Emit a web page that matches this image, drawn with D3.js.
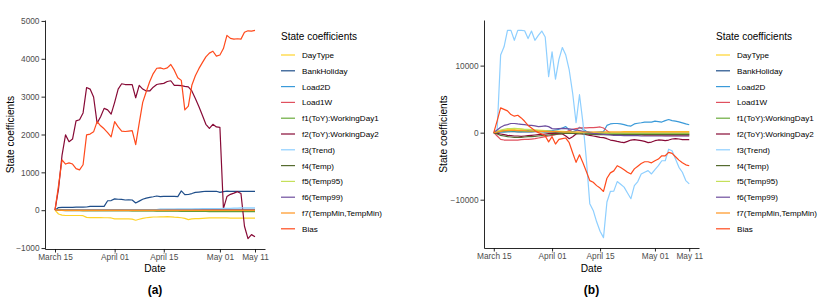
<!DOCTYPE html>
<html>
<head>
<meta charset="utf-8">
<script src="https://cdn.jsdelivr.net/npm/d3@7"></script>
<style>
body { margin: 0; background: #fff; }
svg text { font-family: 'Liberation Sans', Arial, Helvetica, sans-serif; }
.axis .tick text { fill: #4d4d4d; font-size: 8.3px; }
.axis path, .axis line { stroke: #111; stroke-width: 0.9px; }
.axis-title { font-size: 10.2px; fill: #000; }
.panel-label { font-size: 12px; font-weight: bold; fill: #000; }
.legend-title { font-size: 10px; fill: #000; }
.legend-item { font-size: 8.1px; fill: #000; }
.series { fill: none; stroke-width: 1.2px; stroke-linejoin: round; }
</style>
</head>
<body>
<svg id="chart" width="831" height="307"></svg>
<script>
// series names + colours, in legend order
var seriesNames = ['DayType', 'BankHoliday', 'Load2D', 'Load1W', 'f1(ToY):WorkingDay1', 'f2(ToY):WorkingDay2',
  'f3(Trend)', 'f4(Temp)', 'f5(Temp95)', 'f6(Temp99)', 'f7(TempMin,TempMin)', 'Bias'];
var seriesColors = ['#ffd42a', '#1f4e8a', '#3a9ad9', '#e0505e', '#6aab3c', '#870a36',
  '#8ecfff', '#556b2f', '#c5e05a', '#6e4e9e', '#ff9520', '#ff4a1c'];

var firstDay = '2020-03-15';
var lastDay = '2020-05-11';
var dateTicks = ['2020-03-15', '2020-04-01', '2020-04-15', '2020-05-01', '2020-05-11'];
var yTicksA = [-1000, 0, 1000, 2000, 3000, 4000, 5000];
var yTicksB = [-10000, 0, 10000];

// ---- panel (a) values, one per day from March 15 ----
var dayTypeA = [0, -100, -130, -140, -140, -140, -140, -140, -145, -190,
  -195, -195, -195, -195, -200, -200, -205, -230, -230, -230,
  -230, -230, -235, -265, -240, -215, -200, -190, -180, -180,
  -175, -175, -170, -175, -185, -190, -200, -215, -250, -230,
  -225, -220, -215, -210, -205, -200, -205, -200, -205, -205,
  -210, -210, -210, -210, -210, -210, -210, -210];
var bankHolidayA = [0, 70, 75, 75, 75, 75, 80, 80, 80, 85,
  100, 100, 100, 100, 100, 250, 255, 300, 290, 285,
  270, 275, 270, 190, 240, 290, 320, 340, 355, 375,
  360, 365, 365, 365, 365, 360, 510, 410, 415, 440,
  470, 480, 490, 500, 500, 500, 500, 470, 490, 505,
  500, 495, 495, 500, 500, 500, 500, 500];
var load2DA = [0, 5, 10, 10, 10, 10, 10, 10, 10, 10,
  15, 15, 15, 15, 15, 15, 15, 15, 15, 15,
  15, 15, 15, 15, 15, 15, 15, 15, 15, 15,
  20, 20, 20, 20, 20, 20, 20, 20, 20, 20,
  20, 20, 20, 20, 20, 20, 20, 20, 20, 20,
  20, 20, 20, 20, 20, 20, 20, 20];
var load1WA = [0, 5, 5, 5, 5, 5, 5, 5, 5, 5,
  5, 5, 5, 5, 5, 5, 5, 10, 10, 10,
  10, 10, 10, 10, 10, 10, 10, 10, 10, 10,
  10, 10, 10, 10, 10, 10, 10, 10, 10, 10,
  10, 10, 10, 10, 10, 10, 10, 10, 10, 10,
  10, 10, 10, 10, 10, 10, 10, 10];
var f1A = [0, 0, -5, -5, -5, -5, -5, -5, -10, -10,
  -10, -10, -10, -10, -10, -15, -15, -15, -15, -15,
  -15, -15, -20, -20, -20, -20, -20, -20, -20, -25,
  -25, -25, -25, -25, -25, -25, -30, -30, -30, -30,
  -30, -30, -30, -30, -35, -35, -35, -35, -35, -35,
  -40, -40, -40, -40, -40, -40, -40, -40];
var f2A = [0, 560, 1450, 1990, 1810, 1880, 2360, 2390, 2570, 3240,
  3200, 2990, 2300, 2470, 2690, 2650, 2540, 2850, 3200, 3340,
  3320, 3320, 3320, 2970, 3300, 3200, 3150, 3150, 3250, 3320,
  3340, 3350, 3400, 3420, 3300, 3300, 3290, 3270, 3260, 3150,
  2950, 2740, 2510, 2270, 2160, 2270, 2200, 2190, 40, 360,
  420, 450, 490, 440, -425, -750, -645, -700];
var f3A = [0, 0, 5, 5, 5, 5, 5, 10, 10, 10,
  10, 10, 10, 10, 10, 10, 10, 10, 10, 10,
  15, 15, 15, 15, 15, 15, 15, 15, 15, 15,
  20, 20, 25, 25, 25, 30, 30, 30, 30, 30,
  35, 35, 40, 40, 40, 45, 45, 45, 50, 50,
  50, 55, 55, 60, 60, 60, 60, 60];
var f4A = [0, -5, -5, -10, -10, -10, -10, -10, -10, -10,
  -10, -10, -10, -10, -10, -10, -10, -10, -10, -10,
  -10, -10, -10, -10, -10, -10, -10, -10, -10, -10,
  -10, -10, -10, -10, -10, -10, -10, -10, -10, -10,
  -10, -10, -10, -10, -10, -10, -10, -10, -10, -10,
  -10, -10, -10, -10, -10, -10, -10, -10];
var f5A = [0, 0, 0, 0, 0, 0, 0, 0, 0, 0,
  0, 0, 0, 0, 0, 0, 0, 0, 0, 0,
  0, 0, 0, 0, 0, 0, 0, 0, 0, 0,
  -5, -5, -5, -5, -5, -5, -5, -5, -5, -5,
  -5, -5, -5, -5, -5, -5, -5, -5, -5, -5,
  -5, -5, -5, -5, -5, -5, -5, -5];
var f6A = [0, 0, 5, 5, 5, 5, 5, 5, 5, 5,
  5, 5, 5, 5, 5, 5, 5, 5, 5, 5,
  5, 5, 5, 5, 5, 5, 5, 5, 5, 5,
  5, 5, 5, 5, 5, 5, 5, 5, 5, 5,
  5, 5, 5, 5, 5, 5, 5, 5, 5, 5,
  5, 5, 5, 5, 5, 5, 5, 5];
var f7A = [0, 0, -5, -5, -5, -5, -5, -5, -5, -5,
  -5, -5, -5, -5, -5, -5, -5, -5, -5, -5,
  -5, -5, -5, -5, -5, -5, -5, -5, -5, -5,
  -5, -5, -5, -5, -5, -5, -5, -5, -5, -5,
  -5, -5, -5, -5, -5, -5, -5, -5, -5, -5,
  -5, -5, -5, -5, -5, -5, -5, -5];
var biasA = [0, 650, 1330, 1220, 1250, 1220, 1100, 1065, 1200, 1990,
  2010, 2070, 2340, 2230, 2150, 2050, 1940, 2340, 2200, 2090,
  2080, 2090, 2100, 1730, 2300, 2850, 3130, 3400, 3610, 3750,
  3760, 3730, 3760, 3850, 3700, 3500, 3430, 2650, 2750, 3300,
  3550, 3740, 3900, 4050, 4150, 4200, 4070, 4100, 4270, 4620,
  4540, 4520, 4530, 4520, 4700, 4740, 4730, 4750];

// ---- panel (b) values ----
var dayTypeB = [0, 150, 300, 400, 450, 500, 500, 550, 500, 450,
  450, 400, 400, 350, 350, 300, 300, 250, 250, 200,
  200, 150, 150, 100, 100, 50, 0, 0, 0, 50,
  50, 100, 100, 100, 100, 100, 100, 100, 150, 150,
  150, 150, 150, 150, 150, 150, 150, 150, 150, 150,
  150, 150, 150, 150, 150, 150, 150, 150];
var bankHolidayB = [0, 50, 100, 100, 150, 150, 150, 100, 100, 100,
  100, 100, 150, 150, 150, 100, 100, 100, 50, 50,
  50, 0, 0, 0, -50, -50, -100, -100, -150, -150,
  -150, -150, -200, -200, -200, -200, -200, -200, -200, -200,
  -200, -200, -250, -250, -250, -250, -250, -250, -250, -250,
  -250, -250, -250, -250, -250, -250, -250, -250];
var load2DB = [0, 100, 150, 200, 150, 200, 250, 200, 150, 250,
  300, 250, 200, 250, 300, 300, 250, 300, 400, 500,
  700, 900, 400, 100, 300, 800, 500, 200, 100, 0,
  50, 100, 150, 1080, 1300, 1370, 1370, 1300, 1200, 1050,
  980, 1300, 1400, 1480, 1580, 1580, 1580, 1710, 1650, 1580,
  1800, 1960, 1800, 1710, 1600, 1450, 1300, 1180];
var load1WB = [0, -500, -1000, -1100, -1100, -1100, -1100, -1100, -1050, -1000,
  -1000, -950, -900, -800, -700, -600, -500, -400, -300, -200,
  -100, 100, 300, 500, 600, 700, 700, 720, 740, 750,
  800, 850, 700, 300, -100, -200, -250, -300, -300, -300,
  -350, -350, -350, -350, -400, -400, -400, -400, -400, -400,
  -450, -450, -450, -450, -450, -450, -450, -450];
var f1B = [0, 100, 200, 250, 300, 300, 300, 300, 250, 250,
  200, 200, 200, 200, 150, 150, 150, 100, 100, 100,
  100, 100, 50, 50, 0, 0, 0, -50, -50, -50,
  -100, -100, -100, -100, -100, -100, -100, -100, -100, -100,
  -100, -100, -100, -100, -100, -100, -100, -100, -100, -100,
  -100, -100, -100, -100, -100, -100, -100, -100];
var f2B = [0, -100, -200, -300, -400, -450, -500, -500, -550, -500,
  -450, -400, -350, -300, -250, -200, -150, -100, -100, -150,
  -200, -500, -900, -600, -200, -100, -200, -300, -400, -500,
  -600, -700, -740, -900, -1100, -1180, -1300, -1400, -1480, -1300,
  -1100, -1030, -1100, -1180, -1300, -1480, -1400, -1200, -1090, -1100,
  -1180, -1100, -950, -890, -950, -1030, -1030, -1030];
var f3B = [0, 500, 11570, 12800, 15260, 15260, 13780, 15260, 15260, 15200,
  14030, 15160, 13780, 14500, 15160, 14270, 8360, 12050, 7980, 10930,
  12700, 11570, 9350, 5910, 1480, 5660, 1500, -4000, -10590, -11600,
  -13300, -14700, -15660, -10340, -8770, -8720, -7300, -7700, -8120, -9000,
  -9850, -7890, -7300, -6160, -5900, -5670, -6160, -5500, -4930, -4190,
  -4190, -2470, -2700, -3940, -5170, -5910, -7150, -7640];
var f4B = [0, -200, -400, -500, -600, -650, -700, -700, -700, -650,
  -600, -600, -550, -500, -450, -400, -350, -300, -250, -200,
  -150, -100, -100, -100, -150, -150, -200, -200, -250, -250,
  -300, -300, -300, -300, -300, -300, -300, -300, -300, -300,
  -300, -300, -300, -300, -300, -300, -300, -300, -300, -300,
  -300, -300, -300, -300, -300, -300, -300, -300];
var f5B = [0, 200, 400, 500, 600, 600, 650, 600, 550, 500,
  500, 450, 400, 350, 300, 300, 250, 200, 200, 150,
  150, 100, 100, 50, 50, 0, 0, 0, 0, 0,
  0, 0, -50, -50, -50, -50, -50, -50, -50, -50,
  -50, -50, -50, -50, -50, -50, -50, -50, -50, -50,
  -50, -50, -50, -50, -50, -50, -50, -50];
var f6B = [0, 400, 800, 1080, 1200, 1370, 1370, 1300, 1250, 1200,
  1100, 1080, 1000, 900, 950, 1000, 900, 600, 550, 600,
  650, 600, 550, 500, 400, 300, 200, 100, 0, -100,
  -150, -200, -250, -300, -350, -400, -400, -400, -450, -450,
  -450, -450, -450, -500, -500, -500, -500, -500, -500, -500,
  -500, -500, -500, -500, -500, -500, -500, -500];
var f7B = [0, 100, 200, 300, 300, 350, 350, 300, 300, 300,
  250, 250, 250, 200, 200, 200, 150, 150, 150, 150,
  100, 100, 100, 100, 100, 100, 100, 100, 100, 100,
  100, 100, 100, 100, 100, 100, 100, 100, 100, 100,
  100, 100, 100, 100, 100, 100, 100, 100, 100, 100,
  100, 100, 100, 100, 100, 100, 100, 100];
var biasB = [0, 1800, 3690, 3470, 3250, 2700, 2460, 2600, 2200, 1700,
  1080, 700, 300, 0, -200, -500, -1380, -600, -1700, -1000,
  -900, -800, -1500, -3000, -4430, -3300, -4500, -5800, -7150, -7400,
  -7900, -8270, -8770, -6800, -6000, -5700, -4930, -5200, -5520, -5900,
  -6160, -5400, -5000, -4600, -4340, -4340, -4500, -4200, -3940, -3450,
  -3450, -2950, -3100, -3600, -4100, -4500, -4800, -4930];

var valuesA = [dayTypeA, bankHolidayA, load2DA, load1WA, f1A, f2A, f3A, f4A, f5A, f6A, f7A, biasA];
var valuesB = [dayTypeB, bankHolidayB, load2DB, load1WB, f1B, f2B, f3B, f4B, f5B, f6B, f7B, biasB];

(function () {
var svg = d3.select('#chart');
var parseDay = d3.utcParse('%Y-%m-%d');
var days = d3.utcDay.range(parseDay(firstDay), d3.utcDay.offset(parseDay(lastDay), 1));
var tickDates = dateTicks.map(parseDay);

var panels = [
  {label: '(a)', values: valuesA, yTicks: yTicksA, l: 45, r: 265, t: 20, b: 249, yTitleX: 10, legendX: 281},
  {label: '(b)', values: valuesB, yTicks: yTicksB, l: 484, r: 699, t: 20, b: 248, yTitleX: 443, legendX: 716}
];

// ggplot style: 5% padding around the data range
function expand(ext) {
  var pad = (ext[1] - ext[0]) * 0.05;
  return [ext[0] - pad, ext[1] + pad];
}

panels.forEach(function(p) {
  var g = svg.append('g');

  var x = d3.scaleUtc()
    .domain(expand(d3.extent(days).map(Number)))
    .range([p.l, p.r]);
  var y = d3.scaleLinear()
    .domain(expand([d3.min(p.values, function(s) { return d3.min(s); }),
                    d3.max(p.values, function(s) { return d3.max(s); })]))
    .range([p.b, p.t]);

  // lines first so the axis sits on top
  var line = d3.line()
    .x(function(d, i) { return x(days[i]); })
    .y(function(d) { return y(d); });

  g.append('g').selectAll('path')
    .data(p.values)
    .enter()
    .append('path')
    .attr('class', 'series')
    .attr('d', line)
    .attr('stroke', function(d, i) { return seriesColors[i]; });

  g.append('g')
    .attr('class', 'axis')
    .attr('transform', `translate(0,${p.b})`)
    .call(d3.axisBottom(x)
      .tickValues(tickDates)
      .tickFormat(d3.utcFormat('%B %d'))
      .tickSizeInner(3.5)
      .tickSizeOuter(0)
      .tickPadding(2));

  g.append('g')
    .attr('class', 'axis')
    .attr('transform', `translate(${p.l},0)`)
    .call(d3.axisLeft(y)
      .tickValues(p.yTicks)
      .tickFormat(d3.format('d'))
      .tickSizeInner(3.5)
      .tickSizeOuter(0)
      .tickPadding(2));

  g.append('text')
    .attr('class', 'axis-title')
    .attr('x', (p.l + p.r) / 2)
    .attr('y', 272)
    .style('text-anchor', 'middle')
    .text('Date');

  g.append('text')
    .attr('class', 'axis-title')
    .attr('transform', `translate(${p.yTitleX + 3.5},${(p.t + p.b) / 2}) rotate(-90)`)
    .style('text-anchor', 'middle')
    .text('State coefficients');

  g.append('text')
    .attr('class', 'panel-label')
    .attr('x', (p.l + p.r) / 2)
    .attr('y', 294)
    .style('text-anchor', 'middle')
    .text(p.label);

  // legend
  var lg = g.append('g').attr('transform', `translate(${p.legendX},0)`);
  lg.append('text')
    .attr('class', 'legend-title')
    .attr('x', 0)
    .attr('y', 40)
    .text('State coefficients');

  var items = lg.selectAll('.legend-row')
    .data(seriesNames)
    .enter()
    .append('g')
    .attr('class', 'legend-row')
    .attr('transform', function(d, i) { return `translate(0,${55 + i * 15.8})`; });

  items.append('line')
    .attr('x1', 0)
    .attr('x2', 14)
    .attr('stroke-width', 1.2)
    .attr('stroke', function(d, i) { return seriesColors[i]; });

  items.append('text')
    .attr('class', 'legend-item')
    .attr('x', 21)
    .attr('y', 3)
    .text(function(d) { return d; });
});
})();
</script>
</body>
</html>
